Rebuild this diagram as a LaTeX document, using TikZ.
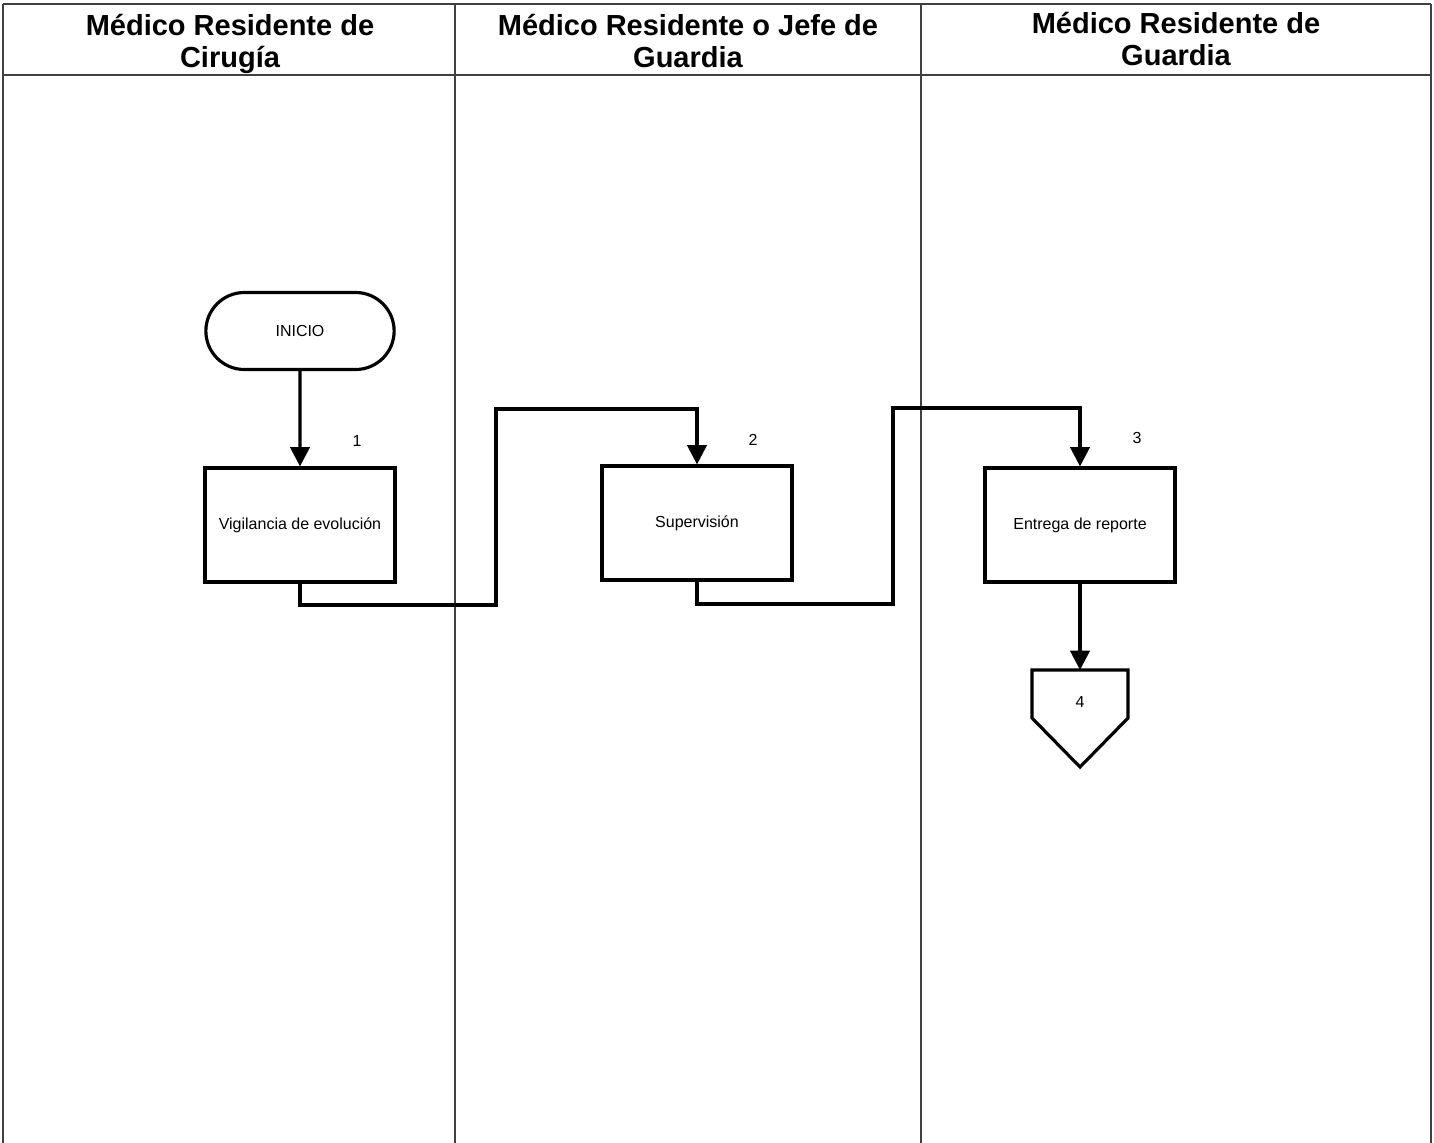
\documentclass[tikz,border=0pt]{standalone}
\usepackage{fontspec}
\setmainfont{Liberation Sans}
\usepackage{tikz}
\usetikzlibrary{arrows.meta}
\usetikzlibrary{shapes.misc}
\usetikzlibrary{positioning}
\usetikzlibrary{calc}

\tikzset{
  lane/.style={draw=black!75, line width=0.8pt},
  lanehead/.style={font=\fontsize{16.5}{18.2}\selectfont\bfseries, align=center, inner sep=0pt},
  proc/.style={draw=black, line width=1.8pt, minimum width=190*0.02cm, minimum height=114*0.02cm, font=\fontsize{9.1}{11}\selectfont, inner sep=0pt},
  term/.style={draw=black, line width=1.8pt, rounded rectangle, minimum width=200*0.02cm, minimum height=77*0.02cm, font=\fontsize{9.1}{11}\selectfont},
  flow/.style={line width=1.8pt, -{Triangle[length=11pt,width=11pt]}},
  stepnum/.style={font=\fontsize{9.1}{11}\selectfont, inner sep=0pt}
}

\begin{document}
\begin{tikzpicture}[x=0.02cm, y=-0.02cm]

      \useasboundingbox (0,0) rectangle (1434,1143);

      % Lane borders
      \def\ltop{4}
      \def\lhead{75}
      \def\lbot{1143}
      \draw[lane] (3,\ltop) -- (1431,\ltop);
      \draw[lane] (3,\lhead) -- (1431,\lhead);
      \foreach \x in {3,455,921,1431} {
        \draw[lane] (\x,\ltop) -- (\x,\lbot);
      }

      % Lane titles
      \node[lanehead] (h1) at (230,44) {Médico Residente de\\Cirugía};
      \node[lanehead] (h2) at (688,41) {Médico Residente o Jefe de\\Guardia};
      \node[lanehead] (h3) at (1176,39) {Médico Residente de\\Guardia};

      % Start
      \node[term] (inicio) at (300,331) {INICIO};

      % Activities
      \node[proc] (vig) at (300,525) {Vigilancia de evolución};
      \node[proc] (sup) at (697,523) {Supervisión};
      \node[proc] (ent) at (1080,525) {Entrega de reporte};

      % Step numbers
      \node[stepnum] (n1) at (357,441) {1};
      \node[stepnum] (n2) at (753,440) {2};
      \node[stepnum] (n3) at (1137,438) {3};

      % Off-page connector
      \coordinate (off) at (1080,670);
      \draw[line width=1.8pt] (off) -- ++(-48,0) -- ++(0,48) -- (1080,767) -- (1128,718) -- (1128,670) -- cycle;
      \node[stepnum] (n4) at (1080,702) {4};

      % Connectors
      \draw[flow] (inicio) -- (vig);
      \draw[flow] (vig.south) |- (496,605) -- (496,409) -| (sup.north);
      \draw[flow] (sup.south) |- (893,604) -- (893,408) -| (ent.north);
      \draw[flow] (ent) -- (off);

\end{tikzpicture}
\end{document}
